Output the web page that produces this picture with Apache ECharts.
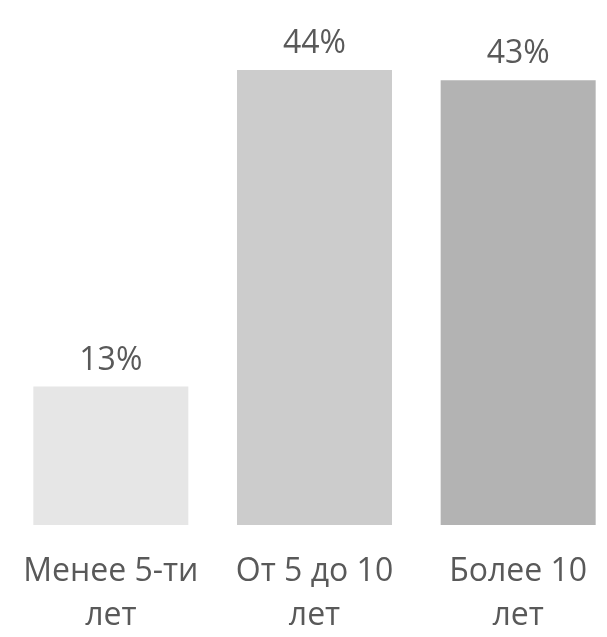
<!DOCTYPE html>
<html><head><meta charset="utf-8">
<script src="https://cdn.jsdelivr.net/npm/echarts@6/dist/echarts.min.js"></script>
<style>html,body{margin:0;padding:0;background:#fff}#c{width:607px;height:637px}</style>
</head><body><div id="c"></div>
<script>
const categories = ["Менее 5-ти\nлет", "От 5 до 10\nлет", "Более 10\nлет"];
const values = [13.4, 44, 43];
const colors = ["#e6e6e6", "#cccccc", "#b3b3b3"];

const chart = echarts.init(document.getElementById('c'), null, {renderer: 'canvas'});
chart.setOption({
  animation: false,
  backgroundColor: '#ffffff',
  grid: {left: 9, width: 611, top: 70, bottom: 112, containLabel: false, outerBoundsMode: 'none'},
  xAxis: {
    type: 'category', data: categories,
    axisLine: {show: false}, axisTick: {show: false},
    axisLabel: {color: '#595959', fontFamily: 'Open Sans', fontSize: 32, lineHeight: 44, margin: 25, interval: 0}
  },
  yAxis: {type: 'value', min: 0, max: 44, show: false, splitLine: {show: false}},
  series: [{
    type: 'bar', barWidth: 155,
    data: values.map((v, i) => ({value: v, itemStyle: {color: colors[i]}})),
    label: {show: true, position: 'top', distance: 10, color: '#595959', fontFamily: 'Open Sans', fontSize: 32,
      formatter: p => Math.round(p.value) + '%'}
  }]
});
</script></body></html>
